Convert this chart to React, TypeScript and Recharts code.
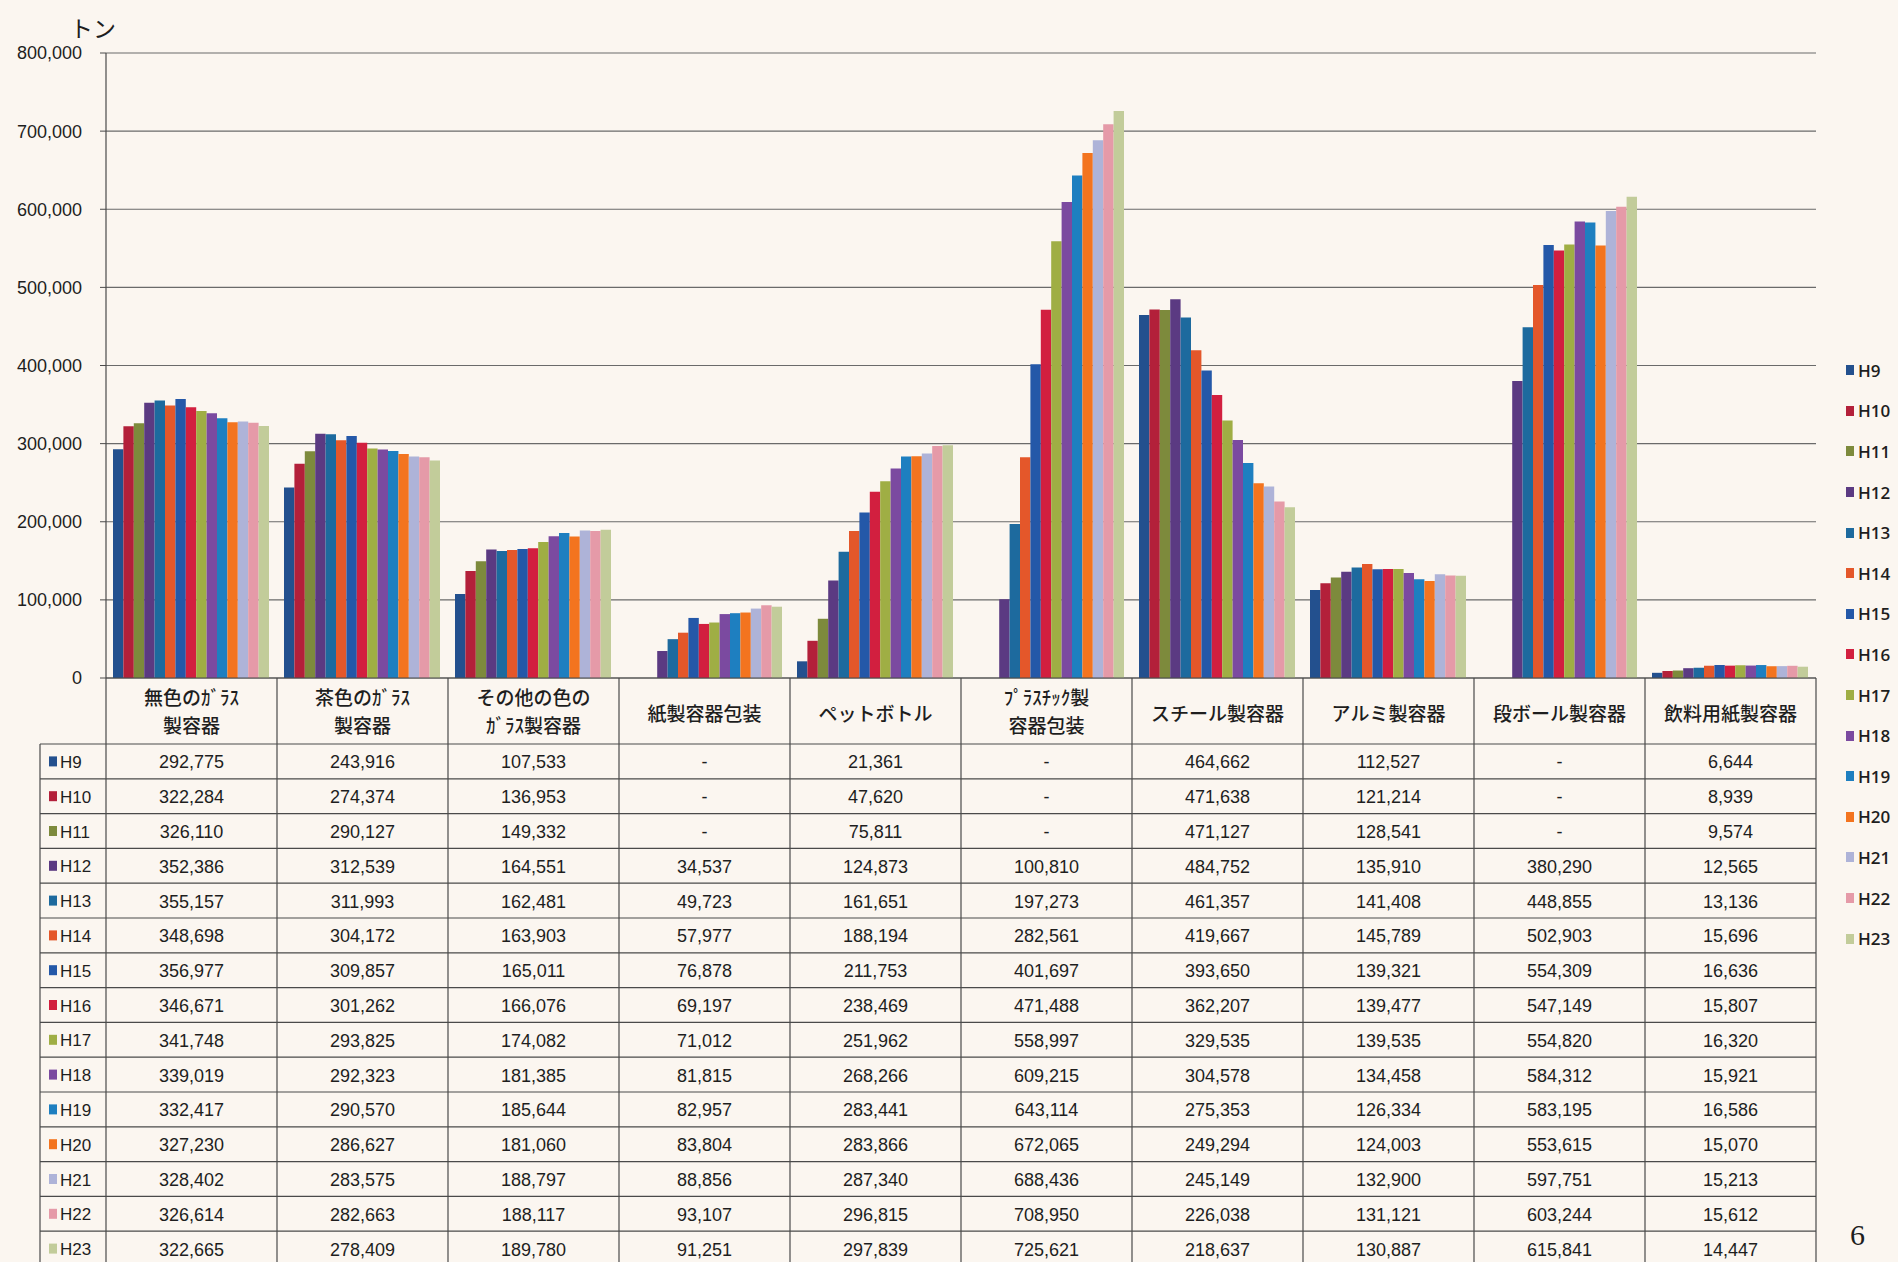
import React from "react";
import {
  BarChart,
  Bar,
  XAxis,
  YAxis,
  CartesianGrid,
  Legend,
} from "recharts";

// Categories (header row of the data table)
const categories = [
  "無色のｶﾞﾗｽ\n製容器",
  "茶色のｶﾞﾗｽ\n製容器",
  "その他の色の\nｶﾞﾗｽ製容器",
  "紙製容器包装",
  "ペットボトル",
  "ﾌﾟﾗｽﾁｯｸ製\n容器包装",
  "スチール製容器",
  "アルミ製容器",
  "段ボール製容器",
  "飲料用紙製容器",
];

const years = ["H9", "H10", "H11", "H12", "H13", "H14", "H15", "H16", "H17", "H18", "H19", "H20", "H21", "H22", "H23"];

// one array per year, values follow the category order (null = "-")
const H9 = [292775, 243916, 107533, null, 21361, null, 464662, 112527, null, 6644];
const H10 = [322284, 274374, 136953, null, 47620, null, 471638, 121214, null, 8939];
const H11 = [326110, 290127, 149332, null, 75811, null, 471127, 128541, null, 9574];
const H12 = [352386, 312539, 164551, 34537, 124873, 100810, 484752, 135910, 380290, 12565];
const H13 = [355157, 311993, 162481, 49723, 161651, 197273, 461357, 141408, 448855, 13136];
const H14 = [348698, 304172, 163903, 57977, 188194, 282561, 419667, 145789, 502903, 15696];
const H15 = [356977, 309857, 165011, 76878, 211753, 401697, 393650, 139321, 554309, 16636];
const H16 = [346671, 301262, 166076, 69197, 238469, 471488, 362207, 139477, 547149, 15807];
const H17 = [341748, 293825, 174082, 71012, 251962, 558997, 329535, 139535, 554820, 16320];
const H18 = [339019, 292323, 181385, 81815, 268266, 609215, 304578, 134458, 584312, 15921];
const H19 = [332417, 290570, 185644, 82957, 283441, 643114, 275353, 126334, 583195, 16586];
const H20 = [327230, 286627, 181060, 83804, 283866, 672065, 249294, 124003, 553615, 15070];
const H21 = [328402, 283575, 188797, 88856, 287340, 688436, 245149, 132900, 597751, 15213];
const H22 = [326614, 282663, 188117, 93107, 296815, 708950, 226038, 131121, 603244, 15612];
const H23 = [322665, 278409, 189780, 91251, 297839, 725621, 218637, 130887, 615841, 14447];

const seriesValues = [H9, H10, H11, H12, H13, H14, H15, H16, H17, H18, H19, H20, H21, H22, H23];

const yTicks = [0, 100000, 200000, 300000, 400000, 500000, 600000, 700000, 800000];

const colors = [
  "#23508e", "#b3203a", "#7d8a3c", "#5b3a82", "#1d6a9e",
  "#e4572a", "#2458a8", "#d21f3f", "#9fae44", "#7b4aa0",
  "#1e7fc0", "#f3741f", "#aeb3d8", "#e59aa8", "#c2cc9a",
];

// build the rows recharts wants
const chartData = categories.map((name, ci) => {
  const row: Record<string, any> = { name };
  years.forEach((y, yi) => {
    row[y] = seriesValues[yi][ci];
  });
  return row;
});

const W = 1898;
const H = 1262;
const PLOT_LEFT = 106;
const PLOT_RIGHT = 1816;
const PLOT_TOP = 53;
const PLOT_BOTTOM = 678;
const TABLE_LEFT = 40;
const HEADER_H = 66;
const ROW_H = 34.8;

const LINE = "#4a4a4a";
const TEXT = "#1e1e1e";
const NUM_FONT = "'Liberation Sans', Arial, sans-serif";
const JP_FONT = "'Noto Sans CJK JP', 'Noto Sans', sans-serif";

const fmt = (v: number | null) => (v == null ? "-" : v.toLocaleString("en-US"));

// each x tick draws its column of the data table under the plot
function TableColumn(props: any) {
  const { x, y, payload, index } = props;
  const band = (PLOT_RIGHT - PLOT_LEFT) / categories.length;
  const left = x - band / 2;
  const right = x + band / 2;
  const bottom = H;
  const lines = String(payload.value).split("\n");
  const rowTop = y + HEADER_H;

  return (
    <g>
      {index === 0 && (
        <g>
          {/* row lines and the label column */}
          {years.map((yr, yi) => {
            const top = rowTop + yi * ROW_H;
            return (
              <g key={yr}>
                <line x1={TABLE_LEFT} x2={PLOT_RIGHT} y1={top} y2={top} stroke={LINE} strokeWidth={1.2} />
                <rect x={49} y={top + ROW_H / 2 - 5} width={8} height={10} fill={colors[yi]} />
                <text
                  x={60}
                  y={top + ROW_H / 2 + 1}
                  dominantBaseline="central"
                  fontSize={17}
                  fontFamily={NUM_FONT}
                  fill={TEXT}
                >
                  {yr}
                </text>
              </g>
            );
          })}
          <line x1={TABLE_LEFT} x2={TABLE_LEFT} y1={rowTop} y2={bottom} stroke={LINE} strokeWidth={1.2} />
        </g>
      )}
      <line x1={left} x2={left} y1={y} y2={bottom} stroke={LINE} strokeWidth={1.2} />
      {index === categories.length - 1 && (
        <line x1={right} x2={right} y1={y} y2={bottom} stroke={LINE} strokeWidth={1.2} />
      )}
      {lines.map((ln, li) => {
        const cy = lines.length === 1 ? y + 34 : y + 18 + li * 28;
        return (
          <text
            key={li}
            x={x}
            y={cy}
            textAnchor="middle"
            dominantBaseline="central"
            fontSize={19}
            fontWeight={500}
            fontFamily={JP_FONT}
            fill={TEXT}
          >
            {ln}
          </text>
        );
      })}
      {seriesValues.map((vals, yi) => (
        <text
          key={yi}
          x={x}
          y={rowTop + yi * ROW_H + ROW_H / 2 + 1}
          textAnchor="middle"
          dominantBaseline="central"
          fontSize={18}
          fontFamily={NUM_FONT}
          fill={TEXT}
        >
          {fmt(vals[index])}
        </text>
      ))}
    </g>
  );
}

function LegendList(props: any) {
  const items = [...(props.payload || [])].sort(
    (a: any, b: any) => years.indexOf(a.value) - years.indexOf(b.value)
  );
  return (
    <div>
      {items.map((item: any) => (
        <div
          key={item.value}
          style={{ height: 40.6, display: "flex", alignItems: "center" }}
        >
          <span style={{ display: "inline-block", width: 8, height: 10, background: item.color, marginRight: 4 }} />
          <span style={{ fontFamily: "'Open Sans', sans-serif", fontWeight: 600, fontSize: 17, color: TEXT }}>
            {item.value}
          </span>
        </div>
      ))}
    </div>
  );
}

export default function App() {
  return (
    <div
      style={{
        position: "absolute",
        left: 0,
        top: 0,
        width: W,
        height: H,
        background: "#fbf6f0",
        overflow: "hidden",
      }}
    >
      <div
        style={{
          position: "absolute",
          left: 70,
          top: 10,
          fontFamily: JP_FONT,
          fontSize: 23,
          color: TEXT,
        }}
      >
        トン
      </div>
      <BarChart
        width={W}
        height={H}
        data={chartData}
        margin={{ top: PLOT_TOP, right: W - PLOT_RIGHT, bottom: 0, left: 0 }}
        barCategoryGap={7.5}
        barGap={0}
        barSize={10.4}
      >
        <CartesianGrid vertical={false} stroke="#6a6a6a" strokeWidth={1.2} />
        <YAxis
          width={PLOT_LEFT}
          domain={[0, 800000]}
          ticks={yTicks}
          interval={0}
          tickFormatter={(v: number) => v.toLocaleString("en-US")}
          axisLine={{ stroke: LINE, strokeWidth: 1.2 }}
          tickLine={{ stroke: LINE }}
          tickSize={6}
          tickMargin={18}
          tick={{ fill: TEXT, fontSize: 18, fontFamily: NUM_FONT }}
        />
        <XAxis
          dataKey="name"
          height={H - PLOT_BOTTOM}
          interval={0}
          tickLine={false}
          tickSize={0}
          tickMargin={0}
          axisLine={{ stroke: LINE, strokeWidth: 1.2 }}
          tick={<TableColumn />}
        />
        <Legend
          layout="vertical"
          align="center"
          verticalAlign="middle"
          content={<LegendList />}
          wrapperStyle={{ left: 1846, top: 350, width: 52, height: 620 }}
        />
        {years.map((yr, yi) => (
          <Bar key={yr} dataKey={yr} name={yr} fill={colors[yi]} isAnimationActive={false} />
        ))}
      </BarChart>
      <div
        style={{
          position: "absolute",
          left: 1850,
          top: 1218,
          fontFamily: "'Liberation Serif', serif",
          fontSize: 30,
          color: TEXT,
        }}
      >
        6
      </div>
    </div>
  );
}
